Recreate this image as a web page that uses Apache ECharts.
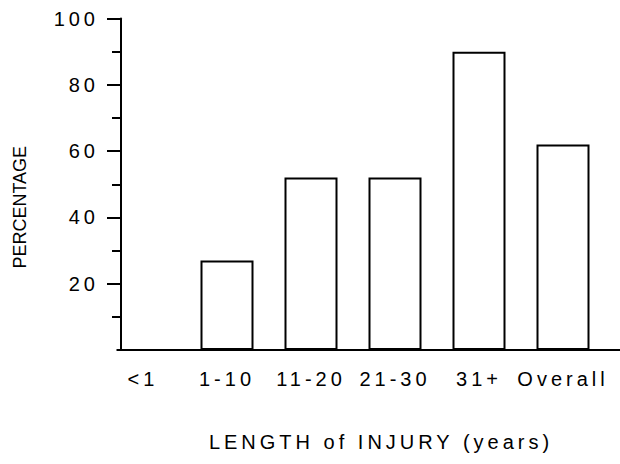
<!DOCTYPE html>
<html>
<head>
<meta charset="utf-8">
<script src="https://cdn.jsdelivr.net/npm/echarts@6/dist/echarts.min.js"></script>
<style>
html, body { margin: 0; background: #fff; }
#chart { width: 620px; height: 464px; }
#chart text { letter-spacing: 4px; }
</style>
</head>
<body>
<div id="chart"></div>
<script>
// data
var categories = ['<1', '1-10', '11-20', '21-30', '31+', 'Overall'];
var percentages = [0, 27, 52, 52, 90, 62];
var yTicks = [20, 40, 60, 80, 100];
var yMin = 0;
var yMax = 100;
var yStep = 20;

var font = 'Liberation Sans';
var black = '#000';
var chart = echarts.init(document.getElementById('chart'), null, { renderer: 'svg' });

// the vertical title is set tighter than the other text
function fixTitle() {
  document.querySelectorAll('#chart text').forEach(function (t) {
    if (t.textContent.indexOf('PERCENTAGE') >= 0) t.style.letterSpacing = '0px';
  });
}
chart.on('finished', fixTitle);

chart.setOption({
  animation: false,
  backgroundColor: '#fff',
  // grid 0 holds the bars, grid 1 draws the axis frame starting at the y axis
  grid: [
    { left: 101, right: 15, top: 18.5, bottom: 114 },
    { left: 121, right: 0, top: 18.5, bottom: 114 }
  ],
  xAxis: [{
    gridIndex: 0,
    type: 'category',
    data: categories,
    axisLine: { show: false },
    axisTick: { show: false },
    axisLabel: { interval: 0, hideOverlap: false, margin: 19, fontSize: 20, color: black, fontFamily: font },
    name: 'LENGTH of INJURY (years)',
    nameLocation: 'middle',
    nameGap: 82,
    nameTextStyle: { fontSize: 20, color: black, fontFamily: font, padding: [0, 0, 0, 56] }
  }, {
    gridIndex: 1,
    type: 'value',
    min: 0,
    max: 1,
    axisLine: { show: true, lineStyle: { color: black, width: 2 } },
    axisTick: { show: false },
    axisLabel: { show: false },
    splitLine: { show: false }
  }],
  yAxis: [{
    gridIndex: 0,
    type: 'value',
    min: yMin,
    max: yMax,
    show: false
  }, {
    gridIndex: 1,
    type: 'value',
    min: yMin,
    max: yMax,
    interval: yStep,
    axisLine: { show: true, lineStyle: { color: black, width: 2 } },
    axisTick: { show: true, customValues: yTicks, length: 14, lineStyle: { color: black, width: 2 } },
    minorTick: { show: true, splitNumber: 2, length: 9, lineStyle: { color: black, width: 2 } },
    splitLine: { show: false },
    minorSplitLine: { show: false },
    axisLabel: {
      customValues: yTicks,
      margin: 22, fontSize: 20, color: black, fontFamily: font
    },
    name: 'PERCENTAGE',
    nameLocation: 'middle',
    nameGap: 92,
    nameTextStyle: { fontSize: 18, color: black, fontFamily: font, padding: [0, 46, 0, 0] }
  }],
  series: [{
    type: 'bar',
    xAxisIndex: 0,
    yAxisIndex: 0,
    data: percentages,
    barWidth: 53,
    itemStyle: { color: '#fff', borderColor: black, borderWidth: 2 }
  }]
});

fixTitle();
setTimeout(fixTitle, 0);
</script>
</body>
</html>
